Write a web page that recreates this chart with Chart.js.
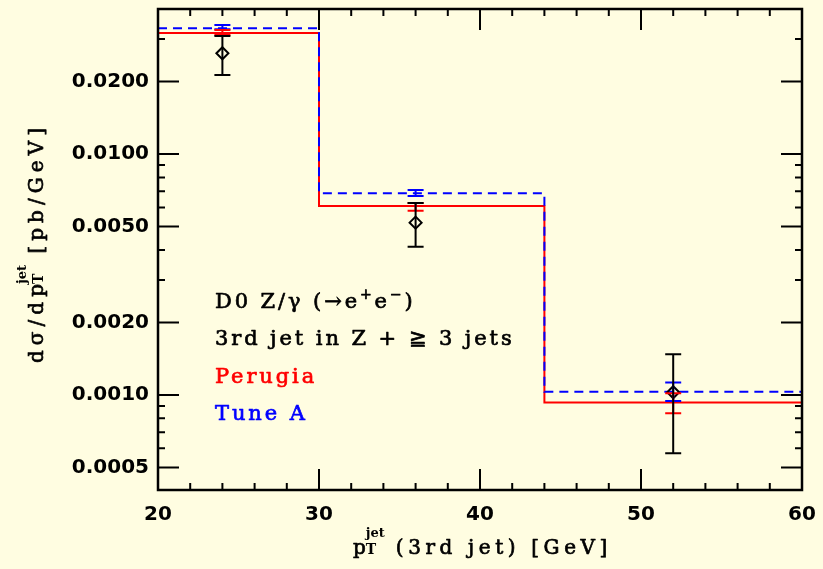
<!DOCTYPE html>
<html>
<head>
<meta charset="utf-8">
<script src="https://cdn.jsdelivr.net/npm/chart.js@4.4.1/dist/chart.umd.min.js"></script>
<style>
  html, body { margin: 0; padding: 0; background: #fffde1; }
  #wrap { width: 823px; height: 569px; }
</style>
</head>
<body>
<div id="wrap"><canvas id="c" width="823" height="569"></canvas></div>
<script>
// bin edges of the 3rd-jet pT histogram (GeV)
const binEdges = [20, 30, 44, 60];

// Pythia tunes, one value per bin, with MC stat. error band
const perugia = [0.0318, 0.00608, 0.000930];
const perugiaLo = [0.0312, 0.00582, 0.000839];
const perugiaHi = [0.0327, 0.00626, 0.001016];

const tuneA = [0.0333, 0.00687, 0.00103];
const tuneALo = [0.0330, 0.00670, 0.000944];
const tuneAHi = [0.0343, 0.00709, 0.001125];

// D0 measurement
const dataX = [24, 36, 52];
const dataY = [0.0262, 0.00519, 0.001026];
const dataLo = [0.0213, 0.00412, 0.000573];
const dataHi = [0.0309, 0.00626, 0.001475];

// axis ticks
const xMajor = [20, 30, 40, 50, 60];
const xMinor = [22, 24, 26, 28, 32, 34, 36, 38, 42, 44, 46, 48, 52, 54, 56, 58];
const yMajor = [0.0005, 0.001, 0.002, 0.005, 0.01, 0.02];
const yMinor = [0.0006, 0.0007, 0.0008, 0.0009, 0.003, 0.004,
                0.006, 0.007, 0.008, 0.009, 0.03, 0.04];

const notes = [
  { text: 'D0 Z/γ (→e', color: '#000', sup: ['+', 'e', '−', ')'] },
  { text: '3rd jet in Z + ≧ 3 jets', color: '#000' },
  { text: 'Perugia', color: '#ff0000' },
  { text: 'Tune A', color: '#0000ff' }
];

// histogram as stepped polyline: last value repeated at the upper edge
function stepPoints(vals) {
  return binEdges.map((x, i) => ({ x: x, y: vals[Math.min(i, vals.length - 1)] }));
}

const serif = '"DejaVu Serif", "Liberation Serif", serif';
const big = '21px ' + serif;
const small = '14px ' + serif;
const titleFont = '20px ' + serif;
const subFont = 'bold 14px ' + serif;
const supFont = 'bold 13px ' + serif;

const decorations = {
  id: 'decorations',
  afterDatasetsDraw(chart) {
    const ctx = chart.ctx;
    const xs = chart.scales.x, ys = chart.scales.y;
    ctx.save();

    // error bars with caps
    function errBar(x, lo, hi, color) {
      const px = xs.getPixelForValue(x);
      const pl = ys.getPixelForValue(lo), ph = ys.getPixelForValue(hi);
      ctx.strokeStyle = color;
      ctx.lineWidth = 2;
      ctx.beginPath();
      ctx.moveTo(px, pl); ctx.lineTo(px, ph);
      ctx.moveTo(px - 8, pl); ctx.lineTo(px + 8, pl);
      ctx.moveTo(px - 8, ph); ctx.lineTo(px + 8, ph);
      ctx.stroke();
    }
    dataX.forEach((x, i) => {
      errBar(x, tuneALo[i], tuneAHi[i], '#0000ff');
      errBar(x, perugiaLo[i], perugiaHi[i], '#ff0000');
      errBar(x, dataLo[i], dataHi[i], '#000');
    });
    ctx.restore();
  },
  afterDraw(chart) {
    const ctx = chart.ctx;
    const a = chart.chartArea;
    const xs = chart.scales.x, ys = chart.scales.y;
    ctx.save();

    // frame
    ctx.strokeStyle = '#000';
    ctx.lineWidth = 2.5;
    ctx.strokeRect(a.left, a.top, a.right - a.left, a.bottom - a.top);

    // inward ticks on all four sides
    ctx.lineWidth = 2;
    ctx.beginPath();
    function xTick(v, len) {
      const p = xs.getPixelForValue(v);
      ctx.moveTo(p, a.bottom); ctx.lineTo(p, a.bottom - len);
      ctx.moveTo(p, a.top); ctx.lineTo(p, a.top + len);
    }
    function yTick(v, len) {
      const p = ys.getPixelForValue(v);
      ctx.moveTo(a.left, p); ctx.lineTo(a.left + len, p);
      ctx.moveTo(a.right, p); ctx.lineTo(a.right - len, p);
    }
    xMajor.forEach(v => xTick(v, 21));
    xMinor.forEach(v => xTick(v, 7));
    yMajor.forEach(v => yTick(v, 21));
    yMinor.forEach(v => yTick(v, 7));
    ctx.stroke();

    // text runs: [string, font, dy, noAdvance, isScript, tight]; returns end x
    // regular face plus a thin outline gives a medium weight
    function runs(list, x, y, spacing, measureOnly) {
      list.forEach(r => {
        const sp = r[4] ? 0 : spacing;
        ctx.font = r[1];
        ctx.letterSpacing = sp + 'px';
        if (!measureOnly) {
          ctx.fillText(r[0], x, y + (r[2] || 0));
          if (!r[4]) ctx.strokeText(r[0], x, y + (r[2] || 0));
        }
        if (!r[3]) x += ctx.measureText(r[0]).width - (r[5] ? sp : 0);
      });
      return x;
    }
    function spacingFor(list, width) {
      const natural = runs(list, 0, 0, 0, true);
      const n = list.filter(r => !r[4]).reduce((s, r) => s + [...r[0]].length - (r[5] ? 1 : 0), 0);
      return (width - natural) / n;
    }

    ctx.lineWidth = 0.7;
    ctx.lineJoin = 'round';

    // legend text
    ctx.textAlign = 'left';
    ctx.textBaseline = 'alphabetic';
    notes.forEach((n, i) => {
      const y = 308 + i * 37.4;
      ctx.fillStyle = n.color;
      ctx.strokeStyle = n.color;
      const list = [[n.text, big]];
      if (n.sup) {
        list.push([n.sup[0], small, -9], [n.sup[1], big], [n.sup[2], small, -9], [n.sup[3], big]);
      }
      runs(list, 215, y, 2.9);
    });

    // axis titles with p_T^jet
    function ptJet(before, after) {
      return [
        [before, titleFont, 0, false, false, true],
        ['T', subFont, 0, true, true],
        ['jet', supFont, -17, false, true],
        [' ' + after, titleFont]
      ];
    }
    ctx.fillStyle = '#000';
    ctx.strokeStyle = '#000';

    const xt = ptJet('p', '(3rd jet) [GeV]');
    runs(xt, 353, 554, spacingFor(xt, 259));

    const yt = ptJet('dσ/dp', '[pb/GeV]');
    ctx.translate(43, 363);
    ctx.rotate(-Math.PI / 2);
    runs(yt, 0, 0, spacingFor(yt, 240));

    ctx.restore();
  }
};

const tickFont = { family: '"DejaVu Sans", sans-serif', weight: 'bold', size: 20 };

new Chart(document.getElementById('c'), {
  type: 'line',
  data: {
    datasets: [
      {
        label: 'Tune A',
        data: stepPoints(tuneA),
        stepped: 'before',
        borderColor: '#0000ff',
        borderWidth: 2,
        borderDash: [9, 6],
        pointRadius: 0,
        fill: false,
        order: 1
      },
      {
        label: 'Perugia',
        data: stepPoints(perugia),
        stepped: 'before',
        borderColor: '#ff0000',
        borderWidth: 2,
        pointRadius: 0,
        fill: false,
        order: 2
      },
      {
        label: 'D0',
        data: dataX.map((x, i) => ({ x: x, y: dataY[i] })),
        showLine: false,
        pointStyle: 'rectRot',
        pointRadius: 6,
        pointBorderWidth: 2,
        pointBorderColor: '#000',
        pointBackgroundColor: 'rgba(0,0,0,0)',
        order: 0
      }
    ]
  },
  options: {
    responsive: false,
    animation: false,
    devicePixelRatio: 1,
    layout: { padding: { top: 9, right: 21, left: 0, bottom: 0 } },
    plugins: { legend: { display: false }, tooltip: { enabled: false } },
    scales: {
      x: {
        type: 'linear',
        min: 20,
        max: 60,
        afterBuildTicks: s => { s.ticks = xMajor.map(v => ({ value: v })); },
        afterFit: s => { s.height = 79; s.paddingLeft = 0; s.paddingRight = 0; },
        grid: { display: false, drawTicks: false },
        border: { display: false },
        ticks: { font: tickFont, color: '#000', padding: 13, maxRotation: 0, autoSkip: false }
      },
      y: {
        type: 'logarithmic',
        min: 0.000403,
        max: 0.04,
        afterBuildTicks: s => { s.ticks = yMajor.map(v => ({ value: v })); },
        afterFit: s => { s.width = 158; s.paddingTop = 0; s.paddingBottom = 0; },
        grid: { display: false, drawTicks: false },
        border: { display: false },
        ticks: {
          font: tickFont,
          color: '#000',
          padding: 9,
          autoSkip: false,
          callback: v => Number(v).toFixed(4)
        }
      }
    }
  },
  plugins: [decorations]
});
</script>
</body>
</html>
